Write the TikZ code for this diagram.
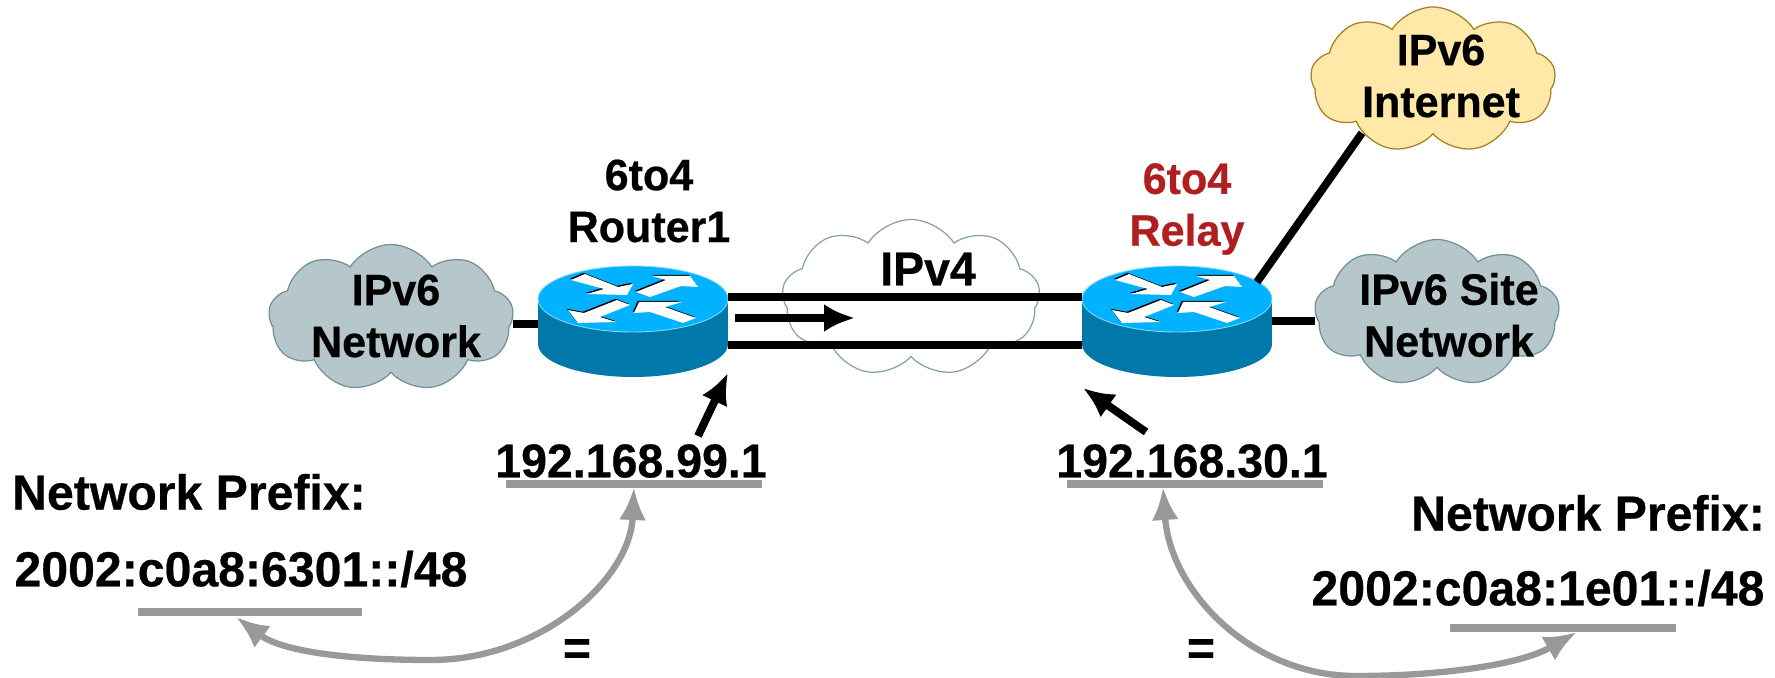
\documentclass[tikz,border=0pt]{standalone}
\usepackage{fontspec}
\setmainfont{Liberation Sans}[BoldFeatures={FakeStretch=0.98,FakeBold=0.5}]
\usetikzlibrary{shapes.symbols, arrows.meta, calc}

\definecolor{routertop}{RGB}{0,178,255}
\definecolor{routerside}{RGB}{0,120,170}
\definecolor{netfill}{RGB}{181,199,202}
\definecolor{netline}{RGB}{110,146,151}
\definecolor{inetfill}{RGB}{255,232,168}
\definecolor{inetline}{RGB}{160,128,32}
\definecolor{relayred}{RGB}{177,30,30}
\definecolor{prefixgray}{RGB}{153,153,153}

\newcommand{\routerdev}[2]{
  \node[routerbox] (#1) at ($(#2)+(0,22.5)$) {};
  \begin{scope}[shift={(#2)}]
    \fill[routerside] (0,45) ellipse (95 and 33);
    \fill[routerside] (-95,0) rectangle (95,45);
    \filldraw[fill=routertop,draw=routertop!50!white,line width=.5pt] (0,0) ellipse (95 and 33);
    \foreach \dd/\cc in {-1.2/black,0/white} {
      \fill[\cc,shift={(\dd,\dd)}] (-48,-25) -- (-15,-12) -- (0,-15) -- (-6,-4) -- (-46,-5) -- (-29,-10) -- (-62,-19) -- cycle;
      \fill[\cc,shift={(\dd,\dd)}] (3,-7) -- (33,-19) -- (19,-23) -- (57,-23) -- (65,-12) -- (48,-13) -- (17,-2) -- cycle;
      \fill[\cc,shift={(\dd,\dd)}] (-16,1) -- (-3,6) -- (-33,18) -- (-17,23) -- (-55,24) -- (-65,11) -- (-49,14) -- cycle;
      \fill[\cc,shift={(\dd,\dd)}] (1,14) -- (6,3) -- (49,3) -- (32,8) -- (63,19) -- (50,24) -- (17,13) -- cycle;
    }
  \end{scope}
}

\begin{document}
\begin{tikzpicture}[x=.02cm,y=-.02cm,
  routerbox/.style={shape=rectangle,inner sep=0pt,minimum width=3.8cm,minimum height=2.22cm},
  netcloud/.style={shape=cloud,cloud puffs=9,cloud puff arc=115,cloud ignores aspect,inner sep=0pt,
    draw=netline,fill=netfill,line width=.7pt,minimum width=4.9cm,minimum height=2.94cm},
  lbl/.style={inner sep=0pt,align=center,font=\fontsize{25}{29.5}\selectfont\bfseries},
  addrtxt/.style={inner sep=0pt,font=\fontsize{27}{30}\selectfont\bfseries},
  prefixtxt/.style={inner sep=0pt,font=\fontsize{28}{30}\selectfont\bfseries},
  ulbar/.style={shape=rectangle,fill=prefixgray,inner sep=0pt,minimum height=.17cm},
  link/.style={draw=black,line width=5pt},
  pointer/.style={draw=black,line width=4.5pt,-{Latex[length=.62cm,width=.56cm]}},
  eqarrow/.style={draw=prefixgray,line width=3.6pt,{Latex[length=.66cm,width=.54cm]}-{Latex[length=.66cm,width=.54cm]}}]
  \useasboundingbox (0,0) rectangle (1775,678);

  % clouds
  \node[netcloud,draw=netline!85!white,fill=white,minimum width=5.16cm,minimum height=3.14cm] (ipv4) at (911,298) {};
  \node[netcloud] (netA) at (391,318) {};
  \node[netcloud] (netB) at (1437,313) {};
  \node[netcloud,draw=inetline,fill=inetfill,minimum height=2.92cm] (inet) at (1433,80) {};

  % routers
  \routerdev{r1}{633,299}
  \routerdev{r2}{1177,299}

  % links
  \coordinate (r1lan) at (538,324);
  \coordinate (r2lan) at (1272,321);
  \coordinate (r2wan) at (1257,282);
  \coordinate (inetwan) at (1362,133);
  \coordinate (r1up) at (728,297);
  \coordinate (r2up) at (1082,297);
  \coordinate (r1dn) at (728,345);
  \coordinate (r2dn) at (1082,345);
  \coordinate (flowa) at (735,318);
  \coordinate (flowb) at (855,318);
  \draw[link] (r1lan) -- (r1lan -| netA.east);
  \draw[link] (r2lan) -- (r2lan -| netB.west);
  \draw[link,line width=4.5pt] (r2wan) -- (inetwan);
  \draw[link] (r1up) -- (r2up);
  \draw[link] (r1dn) -- (r2dn);
  \draw[pointer] (flowa) -- (flowb);

  % labels
  \node[lbl] (l1) at (396,316) {IPv6\\Network};
  \node[lbl] (l2) at (1449,315) {IPv6 Site\\Network};
  \node[lbl] (l3) at (1441,76) {IPv6\\Internet};
  \node[lbl,font=\fontsize{27}{30}\selectfont\bfseries] (l4) at (928,269) {IPv4};
  \node[lbl] (l5) at (649,201) {6to4\\Router1};
  \node[lbl,text=relayred] (l6) at (1187,209) {6to4\\Relay};

  % addresses
  \node[addrtxt] (a1) at (631,461) {192.168.99.1};
  \node[addrtxt] (a2) at (1192,461) {192.168.30.1};
  \node[ulbar,minimum width=5.12cm] (b1) at (634,484) {};
  \node[ulbar,minimum width=5.12cm] (b2) at (1195,484) {};
  \coordinate (a1from) at (698,436);
  \coordinate (r1to) at (728,373);
  \coordinate (a2from) at (1146,432);
  \coordinate (r2to) at (1083,388);
  \draw[pointer] (a1from) -- (r1to);
  \draw[pointer] (a2from) -- (r2to);

  % prefixes
  \node[prefixtxt] (p1) at (189,492) {Network Prefix:};
  \node[prefixtxt] (p2) at (241,569) {2002:c0a8:6301::/48};
  \node[prefixtxt] (p3) at (1588,513) {Network Prefix:};
  \node[prefixtxt] (p4) at (1538,588) {2002:c0a8:1e01::/48};
  \node[ulbar,minimum width=4.48cm] (b3) at (250,612) {};
  \node[ulbar,minimum width=4.52cm] (b4) at (1563,628) {};
  \coordinate (b1tip) at (634,487);
  \coordinate (b2tip) at (1163,487);
  \coordinate (b3tip) at (236,617);
  \coordinate (b4tip) at (1577,632);
  \draw[eqarrow] (b3tip) .. controls (280,650) and (340,660) .. (431,660) .. controls (540,660) and (630,580) .. (b1tip);
  \draw[eqarrow] (b2tip) .. controls (1170,590) and (1250,676) .. (1356,676) .. controls (1440,676) and (1520,665) .. (b4tip);
  \node[prefixtxt] (e1) at (577,652) {=};
  \node[prefixtxt] (e2) at (1201,652) {=};
\end{tikzpicture}
\end{document}
